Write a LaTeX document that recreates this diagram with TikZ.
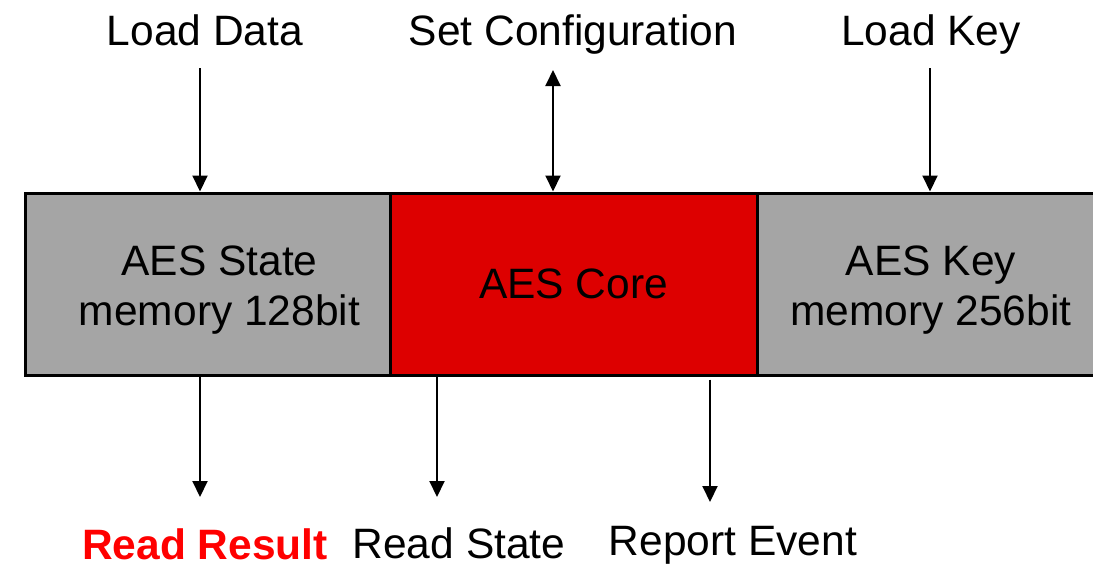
\documentclass[tikz,border=0pt]{standalone}
\usepackage{fontspec}
\setmainfont{Liberation Sans}
\usetikzlibrary{arrows.meta,positioning}
\definecolor{memgrey}{HTML}{A5A5A5}
\definecolor{corered}{HTML}{DD0000}
\definecolor{hotred}{HTML}{FF0000}

\begin{document}
\begin{tikzpicture}[
    x=1pt, y=-1pt,
    font=\fontsize{42.5}{50}\selectfont,
    membox/.style={rectangle, draw, line width=3pt, fill=memgrey, minimum height=182pt, align=center, inner sep=0pt},
    corebox/.style={membox, fill=corered},
    memtext/.style={align=center, inner sep=0pt, yshift=-6pt},
    lbl/.style={anchor=base, inner sep=0pt},
    arr/.style={line width=2pt, -{Triangle[width=15pt,length=16pt]}},
    arrboth/.style={line width=2pt, {Triangle[width=15pt,length=16pt]}-{Triangle[width=15pt,length=16pt]}}
]
\useasboundingbox (0,0) rectangle (1093,566);

% memory blocks and core
\node[membox, minimum width=365pt,
      label={[memtext, xshift=12pt]center:AES State\\memory 128bit}] (state) at (207.5,284) {};
\node[membox, minimum width=348pt,
      label={[memtext]center:AES Key\\memory 256bit}] (key) at (931,284) {};
\node[corebox, minimum width=367pt] (core) at (573.5,284) {AES Core};

% inputs
\node[lbl] (ldata) at (205,45) {Load Data};
\node[lbl] (setcfg) at (573,45) {Set Configuration};
\node[lbl] (lkey) at (931,45) {Load Key};

% outputs
\node[lbl, text=hotred, font=\fontsize{42.5}{50}\selectfont\bfseries] (rres) at (205,559) {Read Result};
\node[lbl] (rstate) at (459,558) {Read State};
\node[lbl] (revent) at (733,555) {Report Event};

\coordinate (ldin) at (200,68);
\coordinate (cfgin) at (553,70);
\coordinate (lkin) at (930,68);
\coordinate (rresout) at (200,497);
\coordinate (rstout) at (437,497);
\coordinate (revout) at (710,502);

\draw[arr] (ldin) -- (ldin |- state.north);
\draw[arrboth] (cfgin) -- (cfgin |- core.north);
\draw[arr] (lkin) -- (lkin |- key.north);
\draw[arr] (rresout |- state.south) -- (rresout);
\draw[arr] (rstout |- core.south) -- (rstout);
\draw[arr] ([yshift=-3pt]revout |- core.south) -- (revout);
\end{tikzpicture}
\end{document}
